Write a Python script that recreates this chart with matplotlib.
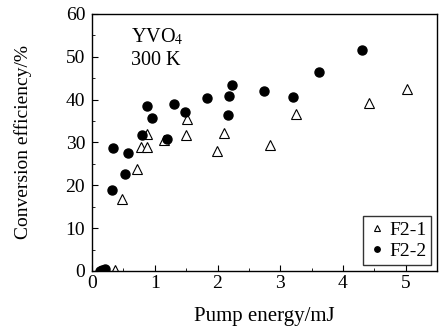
import matplotlib
matplotlib.use("Agg")
import matplotlib.pyplot as plt
from matplotlib.ticker import MultipleLocator

# F2-1 (open triangles)
f21_energy = [0.37, 0.48, 0.72, 0.78, 0.87, 0.88, 1.14, 1.49, 1.52, 1.99, 2.11, 2.84, 3.25, 4.42, 5.02]
f21_eff = [0.3, 16.8, 23.8, 28.9, 28.9, 32.0, 30.6, 31.8, 35.5, 28.0, 32.2, 29.3, 36.7, 39.3, 42.4]

# F2-2 (filled circles)
f22_energy = [0.12, 0.16, 0.20, 0.31, 0.34, 0.52, 0.58, 0.79, 0.88, 0.95, 1.20, 1.31, 1.48,
              1.84, 2.17, 2.18, 2.23, 2.74, 3.20, 3.62, 4.31]
f22_eff = [0.1, 0.2, 0.4, 18.8, 28.7, 22.7, 27.6, 31.7, 38.6, 35.8, 30.8, 38.9, 37.1,
           40.3, 36.4, 40.8, 43.3, 42.1, 40.7, 46.4, 51.5]

plt.rcParams['font.family'] = ['Liberation Serif', 'DejaVu Serif']
plt.rcParams['mathtext.fontset'] = 'stix'

fig = plt.figure(figsize=(4.45, 3.3), dpi=100)
ax = fig.add_axes([0.207, 0.179, 0.775, 0.779])

ax.plot(f21_energy, f21_eff, linestyle='none', marker='^', markersize=6.5,
        markerfacecolor='white', markeredgecolor='black', markeredgewidth=0.8, label='F2-1')
ax.plot(f22_energy, f22_eff, linestyle='none', marker='o', markersize=6.5,
        color='black', label='F2-2')

ax.set_xlim(0, 5.5)
ax.set_ylim(0, 60)
ax.xaxis.set_major_locator(MultipleLocator(1))
ax.xaxis.set_minor_locator(MultipleLocator(0.5))
ax.yaxis.set_major_locator(MultipleLocator(10))
ax.yaxis.set_minor_locator(MultipleLocator(5))
ax.tick_params(which='both', direction='in', top=False, right=False, labelsize=14)
ax.tick_params(axis='y', pad=5)
ax.tick_params(axis='x', pad=3)
ax.tick_params(which='major', length=4)
ax.tick_params(which='minor', length=2)
for s in ax.spines.values():
    s.set_linewidth(1.0)

ax.set_xlabel('Pump energy/mJ', fontsize=15, labelpad=11)
ax.set_ylabel('Conversion efficiency/%', fontsize=14, labelpad=24)

ax.text(0.62, 54.7, 'YVO$_4$', fontsize=14.5, va='center')
ax.text(0.62, 49.1, '300 K', fontsize=14.5, va='center')

leg = ax.legend(loc='lower right', fontsize=14, frameon=True, fancybox=False,
                handletextpad=0.1, handlelength=1.0, markerscale=0.6,
                borderpad=0.25, labelspacing=0.2, borderaxespad=0.3)
leg.get_frame().set_edgecolor('black')
leg.get_frame().set_linewidth(1.0)

fig.savefig('out.png', dpi=100)
